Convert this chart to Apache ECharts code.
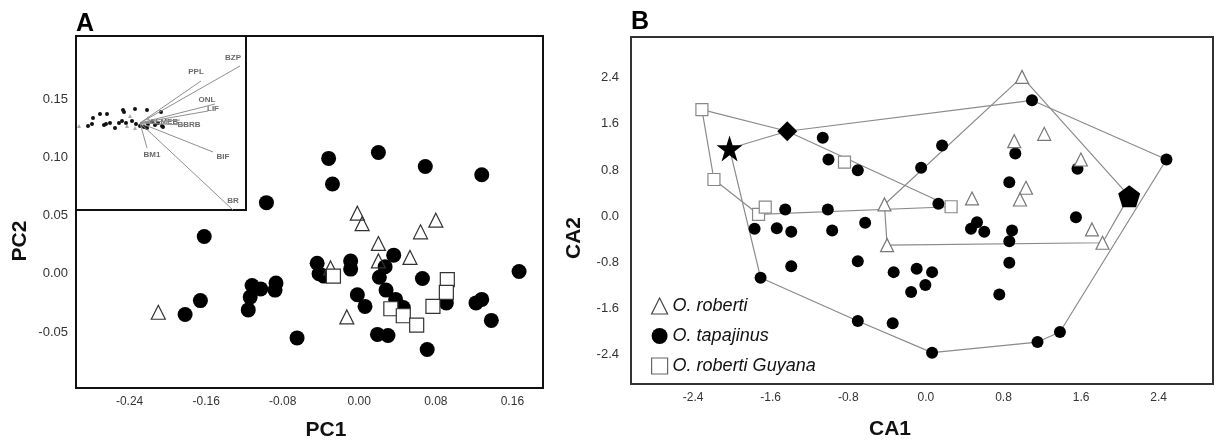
<!DOCTYPE html>
<html>
<head>
<meta charset="utf-8">
<script src="https://cdn.jsdelivr.net/npm/echarts@6/dist/echarts.min.js"></script>
<style>
  html, body { margin: 0; padding: 0; background: #fff; }
  #chart { width: 1215px; height: 441px; }
</style>
</head>
<body>
<div id="chart"></div>
<script>
// ---- panel A: PCA scores ----
const pcaRoberti = [[-0.002, 0.052], [0.003, 0.043], [0.080, 0.046], [0.064, 0.036], [0.020, 0.026],
  [0.020, 0.011], [0.053, 0.014], [-0.013, -0.037], [-0.030, 0.005], [-0.210, -0.033]]
const pcaTapajinus = [[-0.032, 0.099], [0.020, 0.104], [0.069, 0.092], [0.128, 0.085], [-0.028, 0.077],
  [-0.097, 0.061], [-0.162, 0.032], [-0.044, 0.009], [-0.042, 0.000], [-0.037, -0.002], [-0.009, 0.011],
  [-0.009, 0.004], [-0.112, -0.010], [-0.103, -0.013], [-0.114, -0.020], [-0.087, -0.008], [-0.088, -0.014],
  [-0.166, -0.023], [-0.182, -0.035], [-0.116, -0.031], [-0.065, -0.055], [-0.002, -0.018], [0.036, 0.016],
  [0.027, 0.006], [0.021, -0.003], [0.066, -0.004], [0.028, -0.014], [0.006, -0.028], [0.038, -0.022],
  [0.039, -0.028], [0.046, -0.029], [0.091, -0.025], [0.122, -0.025], [0.128, -0.022], [0.138, -0.040],
  [0.167, 0.002], [0.019, -0.052], [0.030, -0.053], [0.071, -0.065]]
const pcaGuyana = [[-0.027, -0.002], [0.092, -0.005], [0.091, -0.016], [0.077, -0.028], [0.033, -0.030],
  [0.046, -0.036], [0.060, -0.044]]
const pcaXTicks = [-0.24, -0.16, -0.08, 0, 0.08, 0.16]
const pcaYTicks = [-0.05, 0, 0.05, 0.10, 0.15]

// ---- panel A inset: loadings biplot ----
const loadNames = ['BZP', 'PPL', 'ONL', 'LIF', 'CLMEB', 'BBRB', 'BIF', 'BR', 'BM1']
const loadEnds = [[1.00, 0.57], [0.61, 0.42], [0.75, 0.19], [0.68, 0.12], [0.40, 0.03], [0.45, -0.02],
  [0.73, -0.29], [0.93, -0.87], [0.07, -0.25]]
const loadLabelAt = [[0.93, 0.65], [0.56, 0.51], [0.67, 0.23], [0.73, 0.14], [0.24, 0.01], [0.49, -0.02],
  [0.83, -0.34], [0.93, -0.78], [0.12, -0.32]]
const insetDots = [[-0.52, -0.03], [-0.48, -0.01], [-0.47, 0.05], [-0.40, 0.09], [-0.33, 0.09], [-0.36, -0.02],
  [-0.34, -0.01], [-0.30, 0.00], [-0.25, -0.05], [-0.18, 0.02], [-0.17, 0.13], [-0.16, 0.11], [-0.05, 0.14],
  [0.07, 0.13], [0.21, 0.11], [-0.08, 0.02], [-0.14, 0.00], [-0.04, -0.01], [0.00, -0.03], [0.04, -0.04],
  [0.08, -0.01], [0.12, 0.01], [0.07, -0.05], [0.15, -0.02], [0.22, -0.03], [0.23, -0.04], [0.18, 0.00],
  [-0.21, 0.00]]
const insetTriangles = [[-0.61, -0.03], [-0.13, -0.03], [-0.10, 0.07], [0.08, 0.05], [-0.05, -0.05]]

// ---- panel B: CA scores ----
const caRoberti = [[0.991, 2.417], [0.911, 1.299], [1.220, 1.427], [1.598, 0.981], [1.032, 0.490],
  [0.970, 0.286], [0.476, 0.304], [1.712, -0.234], [-0.427, 0.200], [-0.400, -0.507], [1.821, -0.465]]
const caTapajinus = [[-1.063, 1.358], [-1.004, 0.981], [-0.702, 0.795], [-0.049, 0.837], [-1.450, 0.113],
  [-1.011, 0.113], [-1.766, -0.222], [-1.537, -0.212], [-1.388, -0.274], [-0.966, -0.252], [-0.626, -0.118],
  [1.094, 2.010], [0.167, 1.224], [0.922, 1.085], [1.563, 0.819], [0.860, 0.587], [2.480, 0.981],
  [1.547, -0.021], [0.129, 0.212], [0.527, -0.108], [0.465, -0.222], [0.602, -0.274], [0.888, -0.252],
  [0.860, -0.438], [-1.388, -0.872], [-0.702, -0.785], [-0.332, -0.976], [-0.095, -0.917], [0.064, -0.976],
  [-0.005, -1.201], [-0.152, -1.323], [0.860, -0.813], [0.757, -1.363], [-1.704, -1.073], [-0.702, -1.826],
  [-0.342, -1.866], [0.064, -2.375], [1.151, -2.191], [1.382, -2.017]]
const caGuyana = [[-2.309, 1.849], [-2.185, 0.634], [-1.725, 0.026], [-1.656, 0.153], [-0.839, 0.934],
  [0.260, 0.160]]
const caStar = [[-2.024, 1.172]]
const caDiamond = [[-1.429, 1.472]]
const caPentagon = [[2.096, 0.344]]
const hullRoberti = [[0.991, 2.417], [2.096, 0.344], [1.821, -0.465], [-0.400, -0.507], [-0.427, 0.200],
  [0.991, 2.417]]
const hullTapajinus = [[-2.024, 1.172], [-1.429, 1.472], [1.094, 2.010], [2.480, 0.981], [1.382, -2.017],
  [1.151, -2.191], [0.064, -2.375], [-0.702, -1.826], [-1.704, -1.073], [-2.024, 1.172]]
const hullGuyana = [[-2.309, 1.849], [-1.429, 1.472], [0.260, 0.160], [-1.725, 0.026], [-2.185, 0.634],
  [-2.309, 1.849]]
const caTicks = [-2.4, -1.6, -0.8, 0, 0.8, 1.6, 2.4]

const font = '"Liberation Sans", Arial, sans-serif'
const starPath = 'path://M12,0 L14.8,8.6 L24,8.6 L16.6,14 L19.4,22.8 L12,17.4 L4.6,22.8 L7.4,14 L0,8.6 L9.2,8.6 Z'
const pentaPath = 'path://M12,0 L24,8.7 L19.4,22.8 L4.6,22.8 L0,8.7 Z'

const chart = echarts.init(document.getElementById('chart'))

const tickLabel = (vals, digits, size) => ({
  customValues: vals,
  formatter: v => Number(v).toFixed(digits),
  fontSize: size,
  fontFamily: font,
  color: '#333',
  margin: 8
})

const hullLine = (data) => ({
  type: 'line',
  xAxisIndex: 2,
  yAxisIndex: 2,
  data,
  symbol: 'none',
  silent: true,
  lineStyle: { color: '#8a8a8a', width: 1.2 },
  z: 1
})

const option = {
  animation: false,
  backgroundColor: '#fff',
  grid: [
    { left: 76, top: 36, width: 467, height: 352, show: true, borderColor: '#111', borderWidth: 2 },
    { left: 76, top: 36, width: 170, height: 174, show: true, borderColor: '#111', borderWidth: 2 },
    { left: 631, top: 37, width: 582, height: 347, show: true, borderColor: '#333', borderWidth: 2 }
  ],
  xAxis: [
    { gridIndex: 0, type: 'value', min: -0.296, max: 0.192, axisLine: { show: false }, axisTick: { show: false },
      splitLine: { show: false }, axisLabel: tickLabel(pcaXTicks, 2, 12) },
    { gridIndex: 1, type: 'value', min: -0.64, max: 1.06, show: false, splitLine: { show: false } },
    { gridIndex: 2, type: 'value', min: -3.04, max: 2.96, axisLine: { show: false }, axisTick: { show: false },
      splitLine: { show: false }, axisLabel: tickLabel(caTicks, 1, 12) }
  ],
  yAxis: [
    { gridIndex: 0, type: 'value', min: -0.098, max: 0.204, axisLine: { show: false }, axisTick: { show: false },
      splitLine: { show: false }, axisLabel: tickLabel(pcaYTicks, 2, 13) },
    { gridIndex: 1, type: 'value', min: -0.87, max: 0.87, show: false, splitLine: { show: false } },
    { gridIndex: 2, type: 'value', min: -2.92, max: 3.11, axisLine: { show: false }, axisTick: { show: false },
      splitLine: { show: false }, axisLabel: Object.assign(tickLabel(caTicks, 1, 13), { margin: 12 }) }
  ],
  legend: {
    orient: 'vertical',
    left: 646,
    top: 292,
    itemWidth: 16,
    itemHeight: 16,
    itemGap: 12,
    selectedMode: false,
    textStyle: { fontSize: 18, fontStyle: 'italic', color: '#111', fontFamily: font },
    data: [
      { name: 'O. roberti', icon: 'triangle', itemStyle: { color: '#fff', borderColor: '#444', borderWidth: 1.2 } },
      { name: 'O. tapajinus', icon: 'circle', itemStyle: { color: '#000' } },
      { name: 'O. roberti Guyana', icon: 'rect', itemStyle: { color: '#fff', borderColor: '#666', borderWidth: 1.2 } }
    ]
  },
  graphic: [
    { type: 'text', x: 85, y: 24, style: { text: 'A', font: 'bold 25px ' + font, fill: '#000', align: 'center', verticalAlign: 'middle' } },
    { type: 'text', x: 640, y: 22, style: { text: 'B', font: 'bold 25px ' + font, fill: '#000', align: 'center', verticalAlign: 'middle' } },
    { type: 'text', x: 326, y: 430, style: { text: 'PC1', font: 'bold 21px ' + font, fill: '#111', align: 'center', verticalAlign: 'middle' } },
    { type: 'text', x: 20, y: 241, rotation: Math.PI / 2, style: { text: 'PC2', font: 'bold 21px ' + font, fill: '#111', align: 'center', verticalAlign: 'middle' } },
    { type: 'text', x: 890, y: 429, style: { text: 'CA1', font: 'bold 21px ' + font, fill: '#111', align: 'center', verticalAlign: 'middle' } },
    { type: 'text', x: 574, y: 238, rotation: Math.PI / 2, style: { text: 'CA2', font: 'bold 21px ' + font, fill: '#111', align: 'center', verticalAlign: 'middle' } }
  ],
  series: [
    // panel A
    { name: 'A tapajinus', type: 'scatter', xAxisIndex: 0, yAxisIndex: 0, data: pcaTapajinus,
      symbol: 'circle', symbolSize: 15, itemStyle: { color: '#000', opacity: 1 } },
    { name: 'A roberti', type: 'scatter', xAxisIndex: 0, yAxisIndex: 0, data: pcaRoberti,
      symbol: 'triangle', symbolSize: 14, itemStyle: { color: 'rgba(255,255,255,0)', borderColor: '#333', borderWidth: 1.2, opacity: 1 } },
    { name: 'A Guyana', type: 'scatter', xAxisIndex: 0, yAxisIndex: 0, data: pcaGuyana,
      symbol: 'rect', symbolSize: 14, itemStyle: { color: '#fff', borderColor: '#333', borderWidth: 1.2, opacity: 1 } },
    // inset
    ...loadEnds.map((end, i) => ({
      name: 'load ' + loadNames[i], type: 'line', xAxisIndex: 1, yAxisIndex: 1,
      data: [[0, 0], end], symbol: 'none', silent: true,
      lineStyle: { color: '#8f8f8f', width: 1 }
    })),
    { name: 'inset dots', type: 'scatter', xAxisIndex: 1, yAxisIndex: 1, data: insetDots,
      symbol: 'circle', symbolSize: 4, itemStyle: { color: '#111', opacity: 1 } },
    { name: 'inset triangles', type: 'scatter', xAxisIndex: 1, yAxisIndex: 1, data: insetTriangles,
      symbol: 'triangle', symbolSize: 4, itemStyle: { color: '#aaa', opacity: 1 } },
    { name: 'inset labels', type: 'scatter', xAxisIndex: 1, yAxisIndex: 1, silent: true,
      data: loadLabelAt.map((p, i) => ({ value: p, name: loadNames[i] })),
      symbolSize: 0,
      label: { show: true, position: 'inside', formatter: '{b}', fontSize: 8, fontWeight: 'bold', color: '#444', fontFamily: font } },
    // panel B hulls
    hullLine(hullRoberti),
    hullLine(hullTapajinus),
    hullLine(hullGuyana),
    // panel B points
    { name: 'O. tapajinus', type: 'scatter', xAxisIndex: 2, yAxisIndex: 2, data: caTapajinus,
      symbol: 'circle', symbolSize: 12, itemStyle: { color: '#000', opacity: 1 }, z: 3 },
    { name: 'O. roberti', type: 'scatter', xAxisIndex: 2, yAxisIndex: 2, data: caRoberti,
      symbol: 'triangle', symbolSize: 13, itemStyle: { color: '#fff', borderColor: '#777', borderWidth: 1.2, opacity: 1 }, z: 3 },
    { name: 'O. roberti Guyana', type: 'scatter', xAxisIndex: 2, yAxisIndex: 2, data: caGuyana,
      symbol: 'rect', symbolSize: 12, itemStyle: { color: '#fff', borderColor: '#888', borderWidth: 1.2, opacity: 1 }, z: 3 },
    { name: 'star', type: 'scatter', xAxisIndex: 2, yAxisIndex: 2, data: caStar,
      symbol: starPath, symbolSize: 26, itemStyle: { color: '#000', opacity: 1 }, z: 4 },
    { name: 'diamond', type: 'scatter', xAxisIndex: 2, yAxisIndex: 2, data: caDiamond,
      symbol: 'diamond', symbolSize: 20, itemStyle: { color: '#000', opacity: 1 }, z: 4 },
    { name: 'pentagon', type: 'scatter', xAxisIndex: 2, yAxisIndex: 2, data: caPentagon,
      symbol: pentaPath, symbolSize: 22, itemStyle: { color: '#000', opacity: 1 }, z: 4 }
  ]
}

chart.setOption(option)

window.addEventListener('resize', () => {
  chart.resize()
})
</script>
</body>
</html>
